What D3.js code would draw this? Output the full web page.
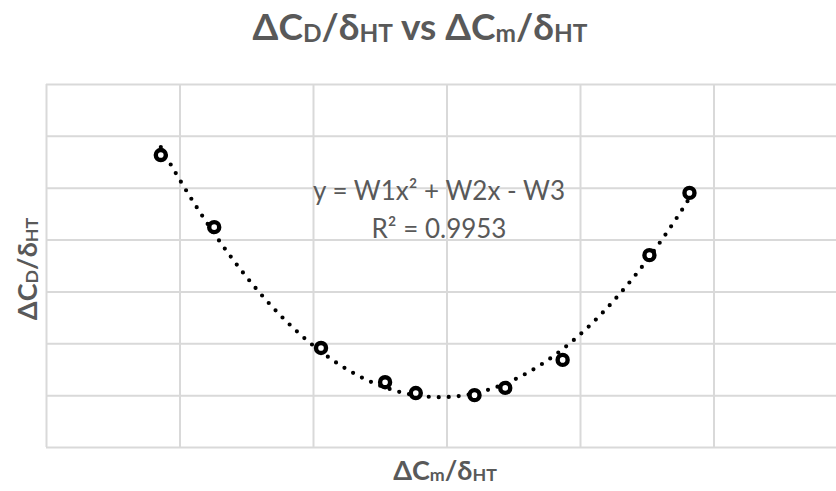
<!DOCTYPE html>
<meta charset="utf-8">
<head>
  <title>dCD vs dCm</title>
</head>
<style>
body { margin: 0; background: #fff; }
text { font-family: Lato, "Open Sans", sans-serif; fill: #595959; }
.grid line { stroke: #d9d9d9; stroke-width: 2; }
.grid path { display: none; }
</style>
<body>
<svg width="836" height="491"></svg>
<script src="https://cdnjs.cloudflare.com/ajax/libs/d3/7.8.5/d3.min.js"></script>
<script>

// points (arbitrary units, no tick labels shown)
var xVals = [0.86, 1.26, 2.06, 2.54, 2.77, 3.21, 3.44, 3.87, 4.52, 4.82];
var yVals = [5.63, 4.24, 1.91, 1.25, 1.04, 1.00, 1.14, 1.68, 3.70, 4.90];
var xTicks = [0, 1, 2, 3, 4, 5, 6];
var yTicks = [0, 1, 2, 3, 4, 5, 6, 7];
var eqLines = ["y = W1x\u00b2 + W2x - W3", "R\u00b2 = 0.9953"];

var svg = d3.select("svg");
var x = d3.scaleLinear().domain([0, 6]).range([46, 847]);
var y = d3.scaleLinear().domain([0, 7]).range([447, 84]);

// gridlines
svg.append("g").attr("class", "grid")
    .attr("transform", "translate(0,447)")
    .call(d3.axisBottom(x).tickValues(xTicks).tickSize(-363).tickFormat(""));
svg.append("g").attr("class", "grid")
    .attr("transform", "translate(46,0)")
    .call(d3.axisLeft(y).tickValues(yTicks).tickSize(-801).tickFormat(""));

// quadratic least squares fit for the trendline
function fitQuad(xs, ys) {
    var s = [0, 0, 0, 0, 0], t = [0, 0, 0];
    xs.forEach(function(xi, i) {
        for (var k = 0; k < 5; k++) s[k] += Math.pow(xi, k);
        for (var k = 0; k < 3; k++) t[k] += ys[i] * Math.pow(xi, k);
    });
    var A = [[s[0], s[1], s[2], t[0]], [s[1], s[2], s[3], t[1]], [s[2], s[3], s[4], t[2]]];
    for (var i = 0; i < 3; i++) {
        for (var j = i + 1; j < 3; j++) {
            var f = A[j][i] / A[i][i];
            for (var k = i; k < 4; k++) A[j][k] -= f * A[i][k];
        }
    }
    var c = [0, 0, 0];
    for (var i = 2; i >= 0; i--) {
        var v = A[i][3];
        for (var k = i + 1; k < 3; k++) v -= A[i][k] * c[k];
        c[i] = v / A[i][i];
    }
    return c;
}
var c = fitQuad(xVals, yVals);
var x0 = d3.min(xVals), x1 = d3.max(xVals);
var fitPts = d3.range(0, 101).map(function(i) {
    var xx = x0 + (x1 - x0) * i / 100;
    return [xx, c[0] + c[1] * xx + c[2] * xx * xx];
});

svg.append("path")
    .datum(fitPts)
    .attr("fill", "none")
    .attr("stroke", "#000")
    .attr("stroke-width", 4.2)
    .attr("stroke-linecap", "round")
    .attr("stroke-dasharray", "0 10")
    .attr("d", d3.line().x(d => x(d[0])).y(d => y(d[1])));

// markers
svg.append("g").selectAll("circle")
    .data(xVals)
    .enter().append("circle")
    .attr("cx", d => x(d))
    .attr("cy", (d, i) => y(yVals[i]))
    .attr("r", 5)
    .attr("fill", "#fff")
    .attr("stroke", "#000")
    .attr("stroke-width", 4.4);

// trendline label
svg.append("g").selectAll("text")
    .data(eqLines)
    .enter().append("text")
    .attr("x", 439)
    .attr("y", (d, i) => 200 + i * 38)
    .attr("text-anchor", "middle")
    .attr("font-size", 26)
    .text(d => d);

// text with subscripts; parts are [string, isSub]
function subText(g, parts, size) {
    var t = g.append("text").attr("text-anchor", "middle")
        .attr("font-weight", "bold").attr("font-size", size);
    var shift = size * 0.05, down = false;
    parts.forEach(function(p) {
        var dy = 0;
        if (p[1] && !down) { dy = shift; down = true; }
        if (!p[1] && down) { dy = -shift; down = false; }
        t.append("tspan")
            .attr("font-size", p[1] ? size * 0.66 : size)
            .attr("dy", dy)
            .text(p[0]);
    });
    return t;
}

// title
subText(svg.append("g").attr("transform", "translate(420,40)"),
    [["\u0394C", 0], ["D", 1], ["/\u03b4", 0], ["HT", 1], [" vs \u0394C", 0], ["m", 1], ["/\u03b4", 0], ["HT", 1]], 37);

// axis titles
subText(svg.append("g").attr("transform", "translate(445,480)"),
    [["\u0394C", 0], ["m", 1], ["/\u03b4", 0], ["HT", 1]], 27);
subText(svg.append("g").attr("transform", "translate(37,269) rotate(-90)"),
    [["\u0394C", 0], ["D", 1], ["/\u03b4", 0], ["HT", 1]], 27);

</script>
</body>
</html>
